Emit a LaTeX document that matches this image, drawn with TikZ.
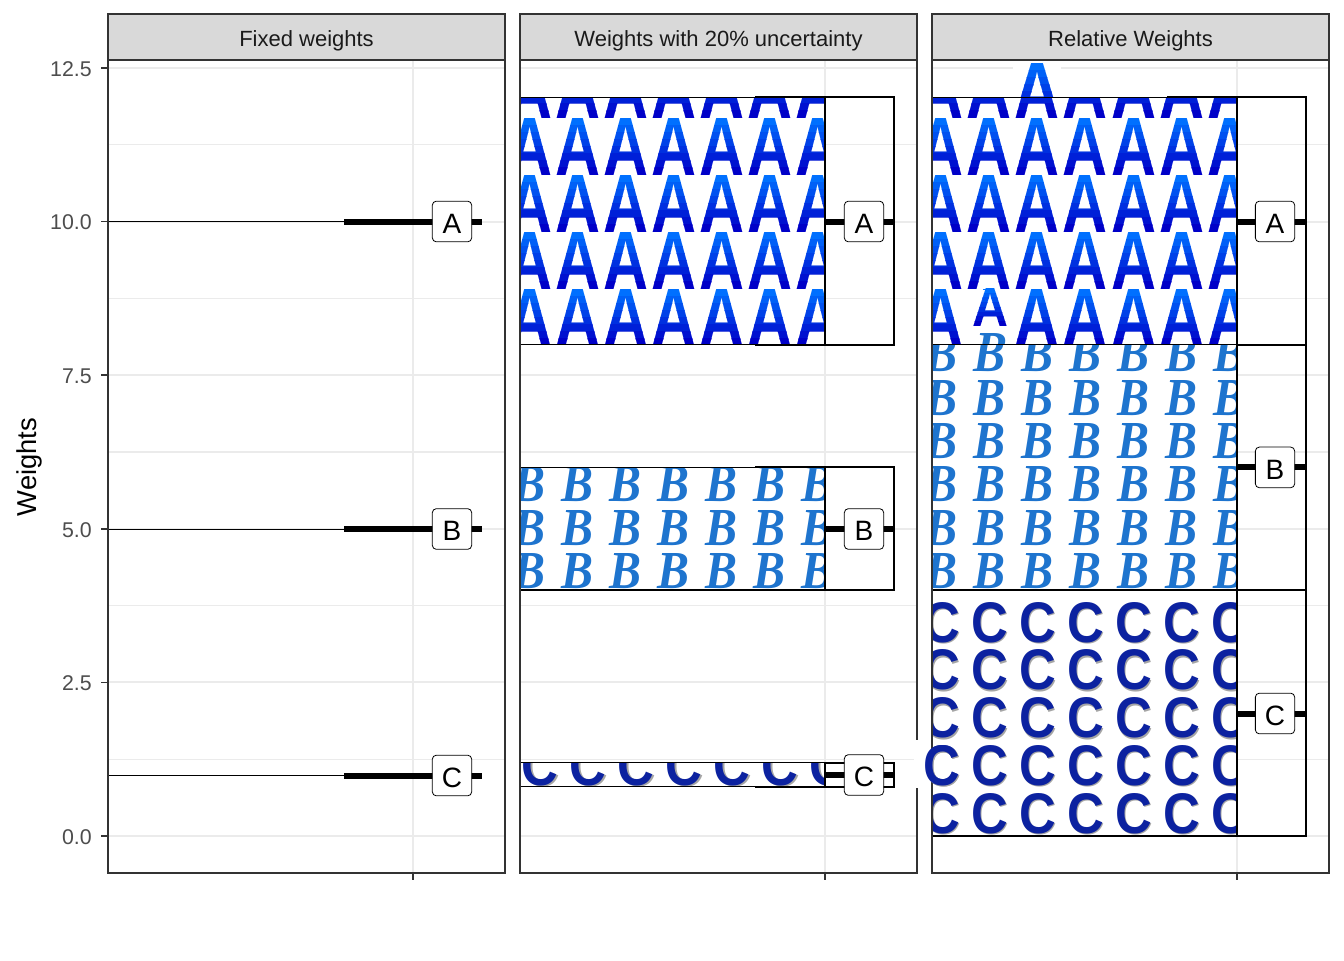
\documentclass[tikz,border=0pt]{standalone}
\usepackage{fontspec}
\setmainfont{Liberation Sans}
\newfontfamily\Bfont{Liberation Serif}
\usepackage{graphicx}
\definecolor{gridc}{HTML}{EBEBEB}
\definecolor{framec}{HTML}{333333}
\definecolor{stripc}{HTML}{D9D9D9}
\definecolor{tickc}{HTML}{4D4D4D}
\definecolor{stript}{HTML}{1A1A1A}
\definecolor{Atop}{RGB}{0,112,255}
\definecolor{Abot}{RGB}{0,0,200}
\definecolor{Bcol}{RGB}{30,116,206}
\definecolor{Ccol}{RGB}{12,34,160}
\definecolor{Cshad}{RGB}{165,165,165}
\newcommand\glyA{\resizebox{33.75pt}{42.75pt}{\bfseries A}}
\newcommand\glyAbig{\resizebox{37.5pt}{42.75pt}{\bfseries A}}
\newcommand\glyAsmall{\resizebox{27pt}{28.5pt}{\bfseries A}}
\newcommand\glyB{\resizebox{24pt}{26.25pt}{\Bfont\bfseries\itshape B}}
\newcommand\glyC{\resizebox{27.5pt}{30pt}{\bfseries C}}
% gradient glyph: #1 left, #2 top, #3 height (px), #4 glyph
\newcommand\gradA[4]{%
  \foreach \bnd in {0,...,7}{%
    \pgfmathsetmacro\bandtop{#2+#3*\bnd/8}%
    \pgfmathtruncatemacro\bandpct{100*\bnd/7}%
    \begin{scope}
      \clip (#1-5,\bandtop) rectangle (#1+70,\bandtop+#3/8+0.4);
      \node[glyph,text=Abot!\bandpct!Atop] at (#1,#2) {#4};
    \end{scope}
  }%
}
\newcommand\Cglyph[2]{%
  \node[glyph,text=Cshad] at (#1+1.5,#2+1.5) {\glyC};
  \node[glyph,text=Ccol] at (#1,#2) {\glyC};
}
\begin{document}
\begin{tikzpicture}[x=0.75pt,y=-0.75pt,
  glyph/.style={inner sep=0pt,outer sep=0pt,anchor=north west},
  gmaj/.style={draw=gridc,line width=1.5pt},
  gmin/.style={draw=gridc,line width=0.8pt},
  frame/.style={draw=framec,line width=1.1pt},
  heavy/.style={draw=black,line width=4.5pt},
  thinline/.style={draw=black,line width=0.75pt},
  outerbox/.style={draw=black,line width=1.5pt},
  patbox/.style={draw=black,line width=1.1pt},
  lab/.style={draw=black,fill=white,rounded corners=3pt,line width=0.6pt,
    minimum width=29.5pt,minimum height=30.5pt,inner sep=0pt,
    text height=17.5pt,text depth=0pt,
    font=\fontsize{21}{21}\selectfont},
  ticklab/.style={anchor=base east,inner sep=0pt,text=tickc,font=\fontsize{16}{16}\selectfont},
  striplab/.style={anchor=base,inner sep=0pt,text=stript,font=\fontsize{16.5}{16.5}\selectfont}
]
\useasboundingbox (0,0) rectangle (1344,960);
\fill[white] (0,0) rectangle (1344,960);

% panels background, grid, strips, x ticks
\foreach \L in {108,520,932}{
  \fill[white] (\L,60) rectangle ++(397,813);
  \begin{scope}
    \clip (\L,60) rectangle ++(397,813);
    \foreach \yy in {144.8,298.4,452,605.6,759.2} \draw[gmin] (\L,\yy) -- ++(397,0);
    \foreach \yy in {68,221.6,375.2,528.8,682.4,836} \draw[gmaj] (\L,\yy) -- ++(397,0);
    \draw[gmaj] (\L+305,60) -- (\L+305,873);
  \end{scope}
  \draw[frame,fill=stripc] (\L,14) rectangle ++(397,46);
  \draw[frame] (\L+305,873) -- ++(0,7);
}
\node[striplab] (s1) at (306.5,46.7) {Fixed weights};
\node[striplab] (s2) at (718.5,46.7) {Weights with 20\% uncertainty};
\node[striplab] (s3) at (1130.5,46.7) {Relative Weights};

% y axis
\foreach \yy/\tl in {68/12.5,221.6/10.0,375.2/7.5,528.8/5.0,682.4/2.5,836/0.0}{
  \draw[frame] (101,\yy) -- (108,\yy);
  \node[ticklab] at (92,\yy+8.3) {\tl};
}
\node[rotate=90,anchor=base,inner sep=0pt,font=\fontsize{20.5}{20.5}\selectfont] (ytitle) at (36.7,467) {Weights};

% ---------- Panel 1: fixed weights ----------
\foreach \nm/\yy in {A/221.5,B/529,C/775.5}{
  \coordinate (p1\nm s) at (108,\yy);
  \coordinate (p1\nm m) at (344,\yy);
  \coordinate (p1\nm e) at (482,\yy);
  \draw[thinline] (p1\nm s) -- (p1\nm m);
  \draw[heavy] (p1\nm m) -- (p1\nm e);
  \node[lab] (l1\nm) at (452,\yy) {\nm};
}

% ---------- Panel 2: 20% uncertainty ----------
% A
\draw[outerbox] (756,97) rectangle (894,344.5);
\draw[heavy] (756,221.5) -- (894,221.5);
\begin{scope}
  \clip (520,97.3) rectangle (825,344.5);
  \fill[white] (520,97.3) rectangle (825,344.5);
  \foreach \rowi in {0,...,4}
    \foreach \col in {0,...,6}{
      \pgfmathsetmacro\gx{507+48.1*\col}
      \pgfmathsetmacro\gy{61+57*\rowi}
      \gradA{\gx}{\gy}{57}{\glyA}
    }
\end{scope}
\draw[patbox] (520,97.3) rectangle (825,344.5);
% B
\draw[outerbox] (756,467.2) rectangle (894,590.2);
\draw[heavy] (756,529) -- (894,529);
\begin{scope}
  \clip (520,467.4) rectangle (825,590.2);
  \fill[white] (520,467.4) rectangle (825,590.2);
  \foreach \rowi in {0,...,2}
    \foreach \col in {0,...,6}
      \node[glyph,text=Bcol] at (513.3+48.1*\col,466.7+43.33*\rowi) {\glyB};
\end{scope}
\draw[patbox] (520,467.4) rectangle (825,590.2);
% C
\draw[outerbox] (756,762.5) rectangle (894,786.7);
\draw[heavy] (756,775) -- (894,775);
\begin{scope}
  \clip (520,762.7) rectangle (825,786.7);
  \fill[white] (520,762.7) rectangle (825,786.7);
  \foreach \col in {0,...,6}{
    \pgfmathsetmacro\gx{521.5+48*\col}
    \Cglyph{\gx}{745}
  }
\end{scope}
\draw[patbox] (520,762.7) rectangle (825,786.7);
\node[lab] (l2A) at (864,221.5) {A};
\node[lab] (l2B) at (864,529) {B};
\node[lab] (l2C) at (864,775) {C};

% ---------- Panel 3: relative weights ----------
% stray A above the block
\fill[white] (1013,61) rectangle (1061,96.5);
\begin{scope}
  \clip (1000,61) rectangle (1075,97.3);
  \gradA{1012.5}{63.3}{57}{\glyAbig}
\end{scope}
% A
\draw[outerbox] (1168,97) rectangle (1306,344.5);
\draw[heavy] (1168,221.5) -- (1306,221.5);
\begin{scope}
  \clip (932,97.3) rectangle (1237,344.5);
  \fill[white] (932,97.3) rectangle (1237,344.5);
  \foreach \rowi in {0,...,4}
    \foreach \col in {0,...,6}{
      \pgfmathsetmacro\gx{918.6+48.1*\col}
      \pgfmathsetmacro\gy{61+57*\rowi}
      \gradA{\gx}{\gy}{57}{\glyA}
    }
  \fill[white] (966,289.5) rectangle (1013,344.5);
  \gradA{972}{288.3}{38}{\glyAsmall}
  \node[glyph,text=Bcol] at (975,333.3) {\glyB};
\end{scope}
\draw[patbox] (932,97.3) rectangle (1237,344.5);
% B
\draw[outerbox] (1168,344.5) rectangle (1306,590.2);
\draw[heavy] (1168,467.4) -- (1306,467.4);
\begin{scope}
  \clip (932,344.5) rectangle (1237,590.2);
  \fill[white] (932,344.5) rectangle (1237,590.2);
  \foreach \rowi in {0,...,5}
    \foreach \col in {0,...,6}
      \node[glyph,text=Bcol] at (925.2+48.1*\col,336.7+43.33*\rowi) {\glyB};
\end{scope}
\draw[patbox] (932,344.5) rectangle (1237,590.2);
% C
\draw[outerbox] (1168,590.2) rectangle (1306,836);
\draw[heavy] (1168,713.5) -- (1306,713.5);
\begin{scope}
  \clip (932,590.2) rectangle (1237,836);
  \fill[white] (932,590.2) rectangle (1237,836);
  \foreach \rowi in {0,...,4}
    \foreach \col in {0,...,6}{
      \pgfmathsetmacro\gx{923+48*\col}
      \pgfmathsetmacro\gy{602+47.75*\rowi}
      \Cglyph{\gx}{\gy}
    }
\end{scope}
\draw[patbox] (932,590.2) rectangle (1237,836);
\node[lab] (l3A) at (1275,221.5) {A};
\node[lab] (l3B) at (1275,467.4) {B};
\node[lab] (l3C) at (1275,713.5) {C};

% panel frames
\foreach \L in {108,520,932}{
  \draw[frame] (\L,60) rectangle ++(397,813);
}
% stray C overlapping the panel gap
\fill[white] (914,740) rectangle (931.4,788);
\Cglyph{923}{745}
\end{tikzpicture}
\end{document}
